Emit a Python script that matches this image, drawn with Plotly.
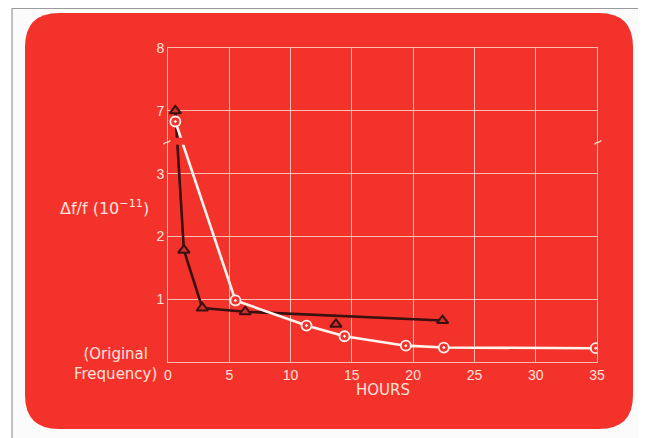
import plotly.graph_objects as go

# ---- data (hours, Δf/f in units of 1e-11) ----
white_hours = [0.6, 5.5, 11.3, 14.4, 19.4, 22.5, 34.9]
white_vals = [6.83, 0.98, 0.58, 0.41, 0.26, 0.23, 0.22]

dark_line_hours = [0.6, 1.3, 2.8, 6.3, 22.4]
dark_line_vals = [7.0, 1.78, 0.86, 0.80, 0.66]
dark_extra_hours = [13.7]
dark_extra_vals = [0.60]

x_ticks = [0, 5, 10, 15, 20, 25, 30, 35]
y_tick_values = [1, 2, 3, 7, 8]
y_tick_labels = ["1", "2", "3", "7", "8"]

RED = "#F4322C"
DARK = "#3a1010"
TXT = "#ffe2da"
GRID = "rgba(255,222,212,0.8)"
FONT = "Liberation Sans, Arial"
LFONT = "DejaVu Sans, Liberation Sans"


def pos(v):
    # broken axis: values 3.5..6.5 are cut out
    return v if v <= 3.5 else v - 3.0


fig = go.Figure()

fig.add_trace(go.Scatter(
    x=dark_line_hours, y=[pos(v) for v in dark_line_vals],
    mode="lines+markers",
    line=dict(color=DARK, width=2.6),
    marker=dict(symbol="triangle-up", size=10, color="#c8302a",
                line=dict(color=DARK, width=2)),
    showlegend=False))
fig.add_trace(go.Scatter(
    x=dark_extra_hours, y=[pos(v) for v in dark_extra_vals],
    mode="markers",
    marker=dict(symbol="triangle-up", size=10, color="#c8302a",
                line=dict(color=DARK, width=2)),
    showlegend=False))
fig.add_trace(go.Scatter(
    x=white_hours, y=[pos(v) for v in white_vals],
    mode="lines+markers",
    line=dict(color="#fff4ee", width=2.6),
    marker=dict(symbol="circle-dot", size=10, color=RED,
                line=dict(color="#fff4ee", width=1.8)),
    showlegend=False))

# reference-page pixel geometry of the plot area; page body adds an 8px offset
OFF = 8
PL, PR, PT, PB = 168, 597, 48, 362
W, H = 646, 438
pw, ph = PR - PL, PB - PT


def px(x):
    return (x - PL) / pw


def py(y):
    return (PB - y) / ph


# rounded red panel
x0, x1, y0, y1, r = px(25), px(633), py(429), py(13), 34
rx, ry = r / pw, r / ph
path = (f"M {x0+rx},{y1} L {x1-rx},{y1} Q {x1},{y1} {x1},{y1-ry} "
        f"L {x1},{y0+ry} Q {x1},{y0} {x1-rx},{y0} "
        f"L {x0+rx},{y0} Q {x0},{y0} {x0},{y0+ry} "
        f"L {x0},{y1-ry} Q {x0},{y1} {x0+rx},{y1} Z")
shapes = [
    dict(type="rect", xref="paper", yref="paper",
         x0=px(12), x1=px(643), y0=py(450), y1=py(8.5),
         line=dict(color="#9a9a9a", width=1.2), fillcolor="#fbfbfb",
         layer="below"),
    dict(type="path", xref="paper", yref="paper", path=path,
         fillcolor=RED, line=dict(width=0), layer="below"),
    # gap where the lines cross the axis break
    dict(type="rect", xref="x", yref="y", x0=0.25, x1=1.9, y0=3.46, y1=3.57,
         fillcolor=RED, line=dict(width=0), layer="above"),
]

annotations = [
    dict(text="Δf/f (10<sup>−11</sup>)", xref="paper", yref="paper",
         x=px(104), y=py(207), xanchor="center", yanchor="middle",
         showarrow=False, font=dict(family=LFONT, size=16, color=TXT)),
    dict(text="(Original<br>Frequency)", xref="paper", yref="paper",
         x=px(159), y=py(364), xanchor="right", yanchor="middle",
         align="center", showarrow=False,
         font=dict(family=LFONT, size=15, color=TXT)),
    dict(text="HOURS", xref="paper", yref="paper", x=0.5, y=py(390),
         xanchor="center", yanchor="middle",
         showarrow=False, font=dict(family=LFONT, size=15, color=TXT)),
    dict(text="~", xref="x", yref="y", x=0, y=3.5, showarrow=False,
         xanchor="center", yanchor="middle",
         textangle=-30, xshift=-2, font=dict(family=FONT, size=16, color=TXT)),
    dict(text="~", xref="x", yref="y", x=35, y=3.5, showarrow=False,
         xanchor="center", yanchor="middle",
         textangle=-30, font=dict(family=FONT, size=16, color=TXT)),
]

fig.update_layout(
    width=W, height=H,
    margin=dict(l=PL - OFF, r=W - (PR - OFF), t=PT - OFF, b=H - (PB - OFF)),
    paper_bgcolor="#ffffff",
    plot_bgcolor="rgba(0,0,0,0)",
    shapes=shapes,
    annotations=annotations,
    xaxis=dict(range=[0, 35], tickvals=x_ticks, ticktext=[str(t) for t in x_ticks],
               showgrid=True, gridcolor=GRID, gridwidth=1,
               showline=True, linecolor=GRID, linewidth=1, mirror=True,
               zeroline=False, ticks="",
               tickfont=dict(family=FONT, size=14, color=TXT)),
    yaxis=dict(range=[0, 5], tickvals=[pos(v) for v in y_tick_values],
               ticktext=y_tick_labels,
               showgrid=True, gridcolor=GRID, gridwidth=1,
               showline=True, linecolor=GRID, linewidth=1, mirror=True,
               zeroline=False, ticks="",
               tickfont=dict(family=FONT, size=14, color=TXT)),
)

fig.write_html("out.html")
